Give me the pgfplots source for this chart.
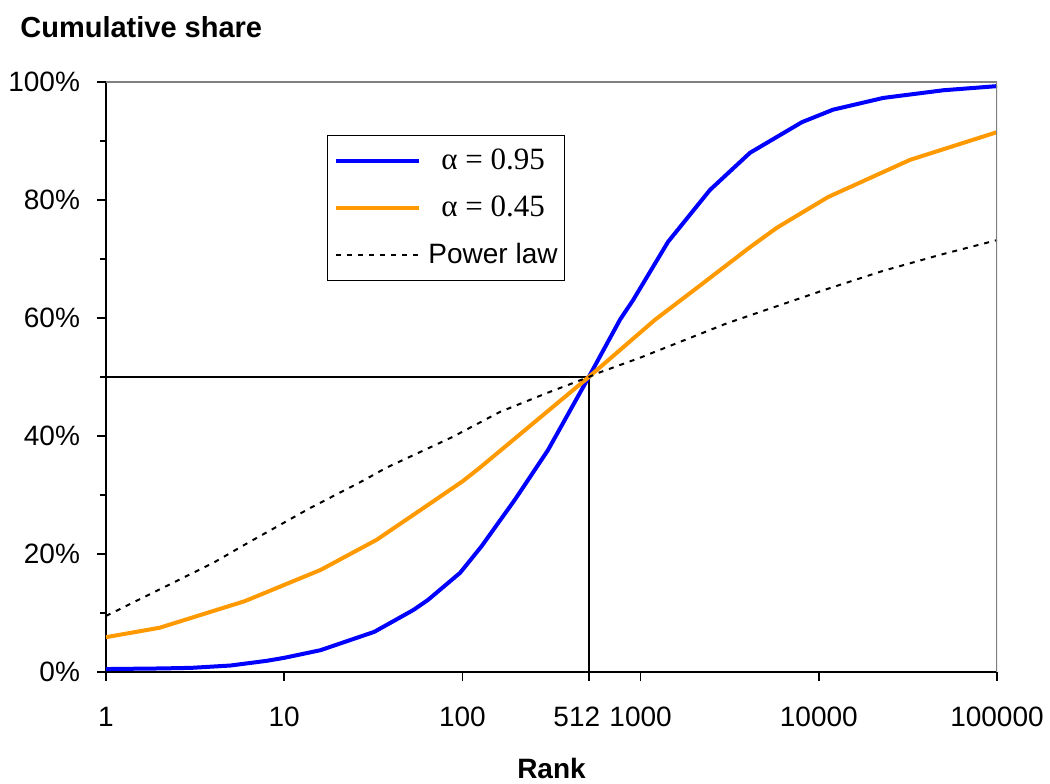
\documentclass[border=0pt]{standalone}
\usepackage{fontspec}
\setmainfont{Liberation Sans}
\newfontfamily\tnr{Liberation Serif}
\usepackage{pgfplots}
\pgfplotsset{compat=1.18}
\definecolor{cblue}{RGB}{0,0,255}
\definecolor{corange}{RGB}{255,153,0}
\begin{document}
\begin{tikzpicture}[font=\fontsize{14}{17}\selectfont]
\useasboundingbox (-53pt,-55.5pt) rectangle (472pt,336pt);
\begin{axis}[
 at={(0,0)}, anchor=south west,
 scale only axis, width=445.5pt, height=295pt,
 xmode=log, xmin=1, xmax=100000,
 ymin=0, ymax=100,
 axis x line*=bottom, axis y line*=left,
 axis line style={-, black, line width=0.75pt},
 xtick={1,10,100,512,1000,10000,100000},
 xticklabels={1,10,100,{512\hspace*{12pt}},1000,10000,100000},
 xminorticks=false,
 ytick={0,20,40,60,80,100},
 minor ytick={10,30,50,70,90},
 yticklabel={\pgfmathprintnumber{\tick}\%},
 tick align=outside,
 major tick length=4.5pt, minor tick length=3pt,
 tick style={black, line width=0.75pt},
 /pgf/number format/assume math mode=true,
 ticklabel style={font=\fontsize{14}{17}\selectfont},
 xticklabel style={yshift=-9.5pt},
 yticklabel style={xshift=-5pt},
 legend style={draw=black, line width=0.5pt, at={(0.248,0.910)}, anchor=north west,
   inner xsep=3.5pt, inner ysep=1pt, row sep=0pt,
   nodes={inner sep=0pt, minimum height=23.5pt},
   /tikz/every odd column/.append style={column sep=3.5pt}},
 legend cell align=center,
 legend image code/.code={\draw[#1] (0pt,0pt) -- (41.5pt,0pt);},
]
\addplot[black, line width=0.75pt, forget plot] coordinates {(1,50) (512,50) (512,0)};
\addplot[cblue, line width=2pt] coordinates {
(1,0.5) (2,0.6) (3,0.7) (5,1.1) (8,1.9) (10,2.4) (16,3.7) (32,6.8) (53,10.5) (64,12.2)
(97,16.8) (128,21.3) (197,29.2) (302,37.6) (512,50) (766,59.7) (906,63) (1425,72.9)
(2450,81.7) (4110,88) (8050,93.2) (12000,95.3) (23000,97.3) (50000,98.6) (100000,99.3)};
\addlegendentry{{\tnr\fontsize{15.5}{17}\selectfont α = 0.95}}
\addplot[corange, line width=2pt] coordinates {
(1,5.9) (2,7.5) (6,12) (16,17.3) (33,22.4) (64,28.3) (100,32.3) (125,34.6) (512,50)
(1205,59.7) (2070,65.1) (4110,72) (5820,75.3) (11270,80.5) (32500,86.8) (100000,91.5)};
\addlegendentry{{\tnr\fontsize{15.5}{17}\selectfont α = 0.45}}
\addplot[black, line width=1pt, dash pattern=on 2.5pt off 3pt] coordinates {
(1,9.5) (2,14.0) (4,18.5) (6.1,21.7) (14,27.8) (28,32.5) (37.3,34.6) (87.5,39.8)
(163,44.1) (299,47.3) (512,50) (592,50.8) (1000,53.3) (3050,59.1) (11100,64.9)
(23000,68) (47900,70.7) (100000,73.2)};
\addlegendentry{Power law}
\draw[gray, line width=0.75pt] (rel axis cs:0,1) -- (rel axis cs:1,1) -- (rel axis cs:1,0);
\end{axis}
\node[anchor=base west, inner sep=0pt, font=\fontsize{14.5}{17}\selectfont\bfseries] at (-43pt,317pt) {Cumulative share};
\node[anchor=base, inner sep=0pt, font=\fontsize{14}{17}\selectfont\bfseries] at (222.75pt,-53pt) {Rank};
\end{tikzpicture}
\end{document}
